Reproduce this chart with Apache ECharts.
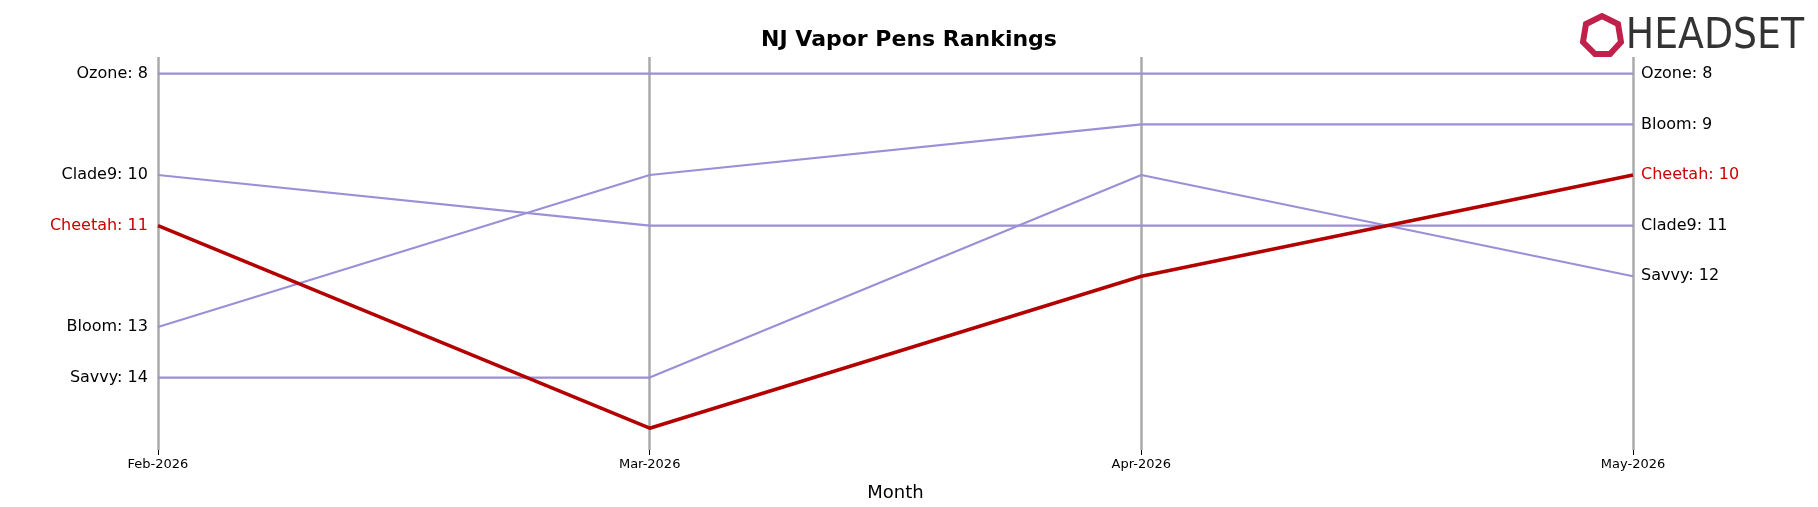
<!DOCTYPE html>
<html><head><meta charset="utf-8">
<script src="https://cdn.jsdelivr.net/npm/echarts@6/dist/echarts.min.js"></script>
<style>html,body{margin:0;padding:0;background:#fff}#c{width:1818px;height:507px}</style>
</head><body><div id="c"></div>
<script>
const months = ["Feb-2026","Mar-2026","Apr-2026","May-2026"];
const brands = ["Ozone","Bloom","Clade9","Cheetah","Savvy"];
const ranks = {
  Ozone:[8,8,8,8],
  Bloom:[13,10,9,9],
  Clade9:[10,11,11,11],
  Cheetah:[11,15,12,10],
  Savvy:[14,14,10,12]
};
const highlight = "Cheetah";
const chart = echarts.init(document.getElementById('c'));
const series = brands.map(b=>{
  const hi = b===highlight;
  const col = hi ? '#b30000' : '#9b8fd8';
  const tc = hi ? '#cc0000' : '#000';
  const r = ranks[b];
  return {
    type:'line', name:b, symbol:'circle', symbolSize:0.1, showSymbol:true, z: hi?5:2,
    itemStyle:{color:col},
    lineStyle:{color:col,width:hi?3.5:2.2},
    label:{show:false},
    data: r.map((v,i)=>{
      const d={value:[i,v]};
      if(i===0) d.label={show:true,position:'left',distance:10,formatter:b+': '+v,color:tc,fontSize:16,fontFamily:'DejaVu Sans'};
      if(i===r.length-1) d.label={show:true,position:'right',distance:8,formatter:b+': '+v,color:tc,fontSize:16,fontFamily:'DejaVu Sans'};
      return d;
    })
  };
});
chart.setOption({
  animation:false,
  title:{text:'NJ Vapor Pens Rankings',left:'center',top:24,textStyle:{fontSize:22,fontWeight:'bold',fontFamily:'DejaVu Sans',color:'#000'}},
  graphic:[{type:'text',right:14,top:16,style:{text:'HEADSET',fontSize:42,fontFamily:'DejaVu Sans Condensed, DejaVu Sans',fill:'#333'}},
    {type:'polygon',shape:{points:[[1586,24],[1602,16],[1618,24],[1621,42],[1610,54],[1595,54],[1583,42]]},style:{fill:'none',stroke:'#c0204a',lineWidth:6}}],
  grid:{left:158,right:185,top:57,bottom:55},
  xAxis:{type:'value',min:0,max:3,interval:1,
    axisLine:{show:false},axisTick:{show:true,length:5,lineStyle:{color:'#000'}},
    axisLabel:{formatter:v=>months[v]||'',fontSize:13,color:'#000',fontFamily:'DejaVu Sans',margin:8},
    splitLine:{show:true,lineStyle:{color:'#aaa',width:2.5}},
    name:'Month',nameLocation:'middle',nameGap:34,nameTextStyle:{fontSize:18,color:'#000',fontFamily:'DejaVu Sans'}},
  yAxis:{type:'value',inverse:true,min:7.67,max:15.43,show:false},
  series
});
</script></body></html>
